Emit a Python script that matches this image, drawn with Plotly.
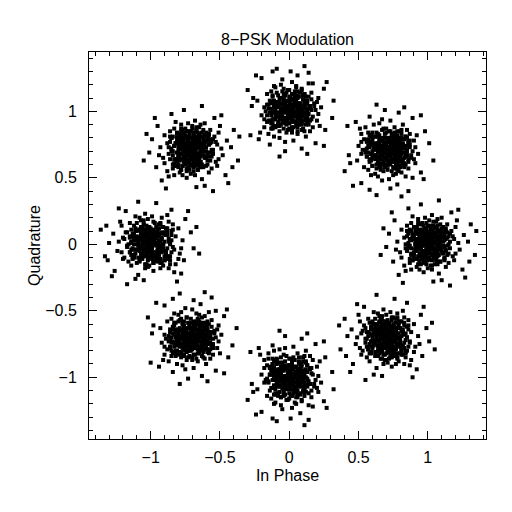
import plotly.graph_objects as go

pts_0 = [
    (1.02, 0.03), (0.97, -0.05), (1.08, 0.01), (0.94, 0.07), (1.01, -0.11), (1.05, 0.09), (0.91, -0.02), (1.11, -0.06),
    (0.99, 0.12), (1.03, -0.01), (0.96, 0.02), (1.07, -0.09), (0.92, 0.10), (1.00, 0.05), (1.13, 0.04), (0.88, -0.07),
    (1.04, 0.14), (0.98, -0.13), (1.09, 0.07), (0.95, -0.09), (1.01, 0.00), (0.93, 0.04), (1.06, -0.03), (0.97, 0.09),
    (1.12, -0.11), (0.90, 0.13), (1.03, 0.06), (0.99, -0.04), (1.15, 0.00), (0.86, 0.01), (1.05, -0.15), (0.94, -0.12),
    (1.10, 0.11), (0.96, 0.16), (1.02, -0.07), (0.89, 0.05), (1.07, 0.03), (0.98, 0.00), (1.14, -0.08), (0.92, -0.05),
    (1.00, -0.18), (1.06, 0.17), (0.84, -0.03), (1.18, 0.06), (0.97, -0.01), (1.03, 0.10), (0.95, 0.03), (1.09, -0.13),
    (0.91, 0.08), (1.04, -0.04), (0.87, -0.11), (1.12, 0.09), (1.01, 0.07), (0.99, -0.08), (1.08, -0.01), (0.93, -0.15),
    (1.16, -0.03), (0.85, 0.10), (1.05, 0.02), (0.97, 0.14), (1.02, -0.16), (0.90, -0.09), (1.11, 0.02), (0.96, -0.06),
    (1.20, 0.13), (0.81, -0.10), (1.07, 0.19), (0.94, -0.19), (1.13, -0.17), (0.88, 0.16), (1.00, 0.09), (1.04, -0.10),
    (0.98, 0.04), (1.10, -0.05), (0.92, 0.01), (1.06, 0.12), (0.95, -0.02), (1.17, 0.10), (0.83, 0.05), (1.01, 0.18),
    (1.23, -0.04), (0.78, 0.02), (1.09, 0.15), (0.97, -0.21), (1.14, 0.05), (0.87, -0.14), (1.03, 0.22), (0.93, 0.19),
    (1.19, -0.12), (0.80, -0.06), (1.26, 0.07), (0.75, -0.13), (1.08, -0.22), (0.89, 0.21), (1.21, 0.18), (0.84, -0.20),
    (1.02, 0.08), (0.99, 0.02), (1.05, -0.06), (0.96, 0.11), (1.07, 0.05), (0.94, -0.03), (1.03, -0.12), (1.00, -0.02),
    (1.11, -0.01), (0.91, -0.11), (1.06, 0.08), (0.88, 0.03), (1.13, 0.12), (0.98, 0.07), (1.15, -0.14), (0.93, 0.16),
    (1.29, 0.02), (0.72, 0.08), (1.17, 0.24), (0.79, -0.23), (1.25, -0.19), (0.86, 0.27), (1.04, -0.28), (1.31, 0.15),
    (0.70, -0.02), (1.22, 0.26), (0.76, 0.18), (1.10, -0.27), (0.95, 0.30), (1.34, -0.08), (0.68, 0.12), (1.19, 0.04),
    (1.01, 0.03), (0.97, -0.10), (1.04, 0.01), (1.08, 0.10), (0.94, 0.00), (1.00, -0.07), (1.12, -0.02), (0.90, 0.06),
    (1.05, 0.13), (0.99, -0.15), (1.07, -0.05), (0.92, 0.12), (1.02, 0.11), (0.96, -0.08), (1.10, 0.06), (0.87, -0.01),
    (1.14, 0.15), (0.83, -0.16), (1.18, -0.09), (0.85, 0.14), (1.03, -0.19), (0.98, 0.20), (1.22, 0.01), (0.77, -0.04),
    (1.06, -0.11), (0.95, 0.05), (1.09, 0.03), (0.91, -0.04), (1.00, 0.14), (1.04, 0.07), (0.97, -0.14), (1.12, 0.07),
    (1.35, 0.10), (0.66, -0.08), (1.27, -0.25), (0.74, 0.24), (1.08, 0.33), (0.82, -0.29), (1.30, -0.13), (1.16, -0.31),
    (0.99, 0.10), (1.02, -0.03), (0.95, 0.09), (1.07, -0.13), (0.90, -0.07), (1.11, 0.13), (1.03, 0.04), (0.93, 0.08),
    (1.01, -0.05), (0.98, 0.06), (1.05, 0.05), (0.96, -0.11), (1.08, 0.00), (0.94, 0.15), (1.13, -0.05), (0.89, -0.12),
    (1.16, 0.08), (0.86, 0.09), (1.04, 0.17), (0.92, -0.17), (1.20, -0.07), (0.81, 0.11), (1.10, 0.20), (0.88, -0.19),
    (1.00, 0.01), (1.06, -0.08), (0.97, 0.04), (1.03, 0.02), (0.95, -0.07), (1.09, 0.09), (0.99, -0.10), (1.02, 0.13),
    (1.00, 0.02), (1.04, -0.03), (0.95, 0.01), (1.02, 0.06), (0.98, -0.06), (1.07, 0.04), (0.93, -0.02), (1.03, -0.08),
    (0.96, 0.07), (1.06, 0.00), (0.99, -0.03), (1.01, 0.09), (0.92, 0.04), (1.05, -0.05), (0.97, 0.03), (1.08, -0.02),
    (1.02, -0.01), (0.94, -0.07), (1.04, 0.08), (0.98, 0.05), (1.09, 0.02), (0.95, -0.04), (1.00, -0.05), (1.03, 0.03),
    (0.91, 0.00), (1.06, 0.06), (0.97, -0.09), (1.01, -0.02), (1.05, 0.02), (0.94, 0.06), (1.07, -0.07), (0.99, 0.04),
    (1.03, 0.00), (0.96, -0.01), (1.00, 0.07), (1.08, 0.05), (0.93, 0.02), (1.02, -0.04), (0.98, 0.01), (1.05, -0.09),
    (0.95, 0.08), (1.01, 0.01), (1.06, -0.03), (0.92, -0.05), (1.04, 0.05), (0.99, -0.07), (1.09, -0.04), (0.97, 0.00),
    (1.12, 0.03), (1.10, 0.09), (1.05, 0.13), (0.98, 0.12), (0.91, 0.10), (0.87, 0.04), (0.88, -0.03), (0.92, -0.11),
    (0.98, -0.13), (1.06, -0.12), (1.11, -0.07), (1.14, -0.01), (1.08, 0.06), (1.03, 0.10), (0.94, 0.08), (0.90, -0.06),
    (1.15, 0.06), (1.07, 0.14), (0.96, 0.15), (0.86, 0.08), (0.85, -0.05), (0.95, -0.15), (1.09, -0.13), (1.15, -0.07),
    (1.09, 0.00), (1.00, 0.09), (0.91, 0.01), (1.01, -0.10), (1.07, 0.11), (0.89, 0.07), (0.94, -0.13), (1.12, -0.10),
    (1.13, 0.10), (0.99, 0.16), (0.87, 0.11), (0.84, 0.00), (0.89, -0.12), (1.03, -0.16), (1.13, -0.04), (1.10, 0.12),
    (1.06, 0.08), (0.92, 0.13), (0.88, -0.08), (1.08, -0.08), (1.16, 0.02), (0.97, 0.07), (0.93, -0.09), (1.04, -0.07),
    (1.11, 0.05), (1.02, 0.14), (0.90, 0.04), (0.96, -0.11), (1.07, -0.15), (1.14, 0.09), (0.86, -0.02), (0.94, 0.11),
    (1.10, -0.02), (1.05, 0.12), (0.88, 0.10), (0.91, -0.04), (1.00, -0.12), (1.12, -0.12), (0.85, 0.06), (1.08, 0.04),
]

pts_45 = [
    (0.74, 0.69), (0.66, 0.74), (0.72, 0.63), (0.78, 0.77), (0.60, 0.70), (0.80, 0.66), (0.69, 0.80), (0.65, 0.60),
    (0.83, 0.72), (0.70, 0.68), (0.73, 0.75), (0.62, 0.64), (0.81, 0.79), (0.76, 0.71), (0.75, 0.58), (0.64, 0.83),
    (0.85, 0.67), (0.58, 0.73), (0.78, 0.62), (0.62, 0.76), (0.71, 0.70), (0.75, 0.78), (0.68, 0.65), (0.80, 0.74),
    (0.60, 0.59), (0.84, 0.81), (0.77, 0.68), (0.67, 0.72), (0.71, 0.56), (0.72, 0.85), (0.56, 0.66), (0.59, 0.77),
    (0.82, 0.61), (0.87, 0.75), (0.64, 0.69), (0.76, 0.82), (0.74, 0.64), (0.71, 0.73), (0.63, 0.57), (0.66, 0.79),
    (0.53, 0.71), (0.88, 0.65), (0.68, 0.87), (0.77, 0.53), (0.70, 0.74), (0.81, 0.68), (0.74, 0.76), (0.58, 0.62),
    (0.79, 0.80), (0.67, 0.67), (0.60, 0.84), (0.80, 0.59), (0.78, 0.70), (0.63, 0.72), (0.70, 0.63), (0.56, 0.78),
    (0.68, 0.55), (0.81, 0.86), (0.73, 0.66), (0.85, 0.74), (0.55, 0.69), (0.62, 0.81), (0.73, 0.60), (0.65, 0.75),
    (0.84, 0.51), (0.61, 0.90), (0.90, 0.64), (0.52, 0.77), (0.54, 0.58), (0.87, 0.83), (0.80, 0.71), (0.61, 0.67),
    (0.75, 0.73), (0.66, 0.61), (0.72, 0.79), (0.83, 0.65), (0.69, 0.76), (0.81, 0.54), (0.76, 0.88), (0.89, 0.70),
    (0.67, 0.48), (0.73, 0.93), (0.86, 0.62), (0.50, 0.74), (0.76, 0.57), (0.57, 0.84), (0.93, 0.68), (0.90, 0.78),
    (0.59, 0.52), (0.65, 0.91), (0.78, 0.45), (0.58, 0.96), (0.49, 0.63), (0.92, 0.82), (0.89, 0.50), (0.51, 0.87),
    (0.79, 0.69), (0.73, 0.72), (0.65, 0.66), (0.82, 0.75), (0.76, 0.64), (0.68, 0.77), (0.59, 0.68), (0.69, 0.71),
    (0.70, 0.60), (0.60, 0.80), (0.79, 0.65), (0.74, 0.83), (0.83, 0.58), (0.78, 0.73), (0.57, 0.56), (0.87, 0.78),
    (0.73, 0.42), (0.79, 0.99), (0.95, 0.54), (0.48, 0.92), (0.52, 0.46), (0.98, 0.85), (0.43, 0.67), (0.86, 0.40),
    (0.69, 1.01), (0.97, 0.49), (0.89, 0.95), (0.44, 0.61), (1.01, 0.76), (0.63, 0.37), (0.83, 1.03), (0.75, 0.52),
    (0.74, 0.70), (0.61, 0.74), (0.72, 0.67), (0.81, 0.63), (0.71, 0.77), (0.64, 0.71), (0.69, 0.59), (0.77, 0.81),
    (0.84, 0.66), (0.56, 0.72), (0.66, 0.64), (0.83, 0.79), (0.82, 0.69), (0.63, 0.75), (0.77, 0.61), (0.70, 0.84),
    (0.86, 0.57), (0.55, 0.88), (0.62, 0.53), (0.85, 0.86), (0.52, 0.68), (0.91, 0.73), (0.72, 0.49), (0.67, 0.94),
    (0.60, 0.65), (0.76, 0.76), (0.74, 0.62), (0.67, 0.80), (0.85, 0.71), (0.78, 0.67), (0.57, 0.74), (0.78, 0.59),
    (0.81, 0.36), (0.63, 1.05), (0.46, 0.44), (0.95, 0.97), (1.04, 0.63), (0.42, 0.89), (0.58, 0.41), (0.40, 0.55),
    (0.81, 0.72), (0.68, 0.69), (0.80, 0.76), (0.58, 0.64), (0.64, 0.81), (0.84, 0.60), (0.75, 0.68), (0.79, 0.78),
    (0.66, 0.70), (0.77, 0.73), (0.76, 0.66), (0.60, 0.75), (0.71, 0.63), (0.86, 0.77), (0.66, 0.58), (0.59, 0.82),
    (0.79, 0.55), (0.80, 0.85), (0.88, 0.67), (0.54, 0.79), (0.64, 0.51), (0.82, 0.90), (0.91, 0.61), (0.52, 0.83),
    (0.72, 0.71), (0.63, 0.65), (0.75, 0.74), (0.73, 0.68), (0.64, 0.76), (0.80, 0.62), (0.61, 0.72), (0.84, 0.69),
    (0.71, 0.73), (0.75, 0.68), (0.66, 0.72), (0.73, 0.77), (0.69, 0.65), (0.78, 0.75), (0.64, 0.69), (0.74, 0.63),
    (0.67, 0.78), (0.77, 0.71), (0.70, 0.68), (0.72, 0.80), (0.63, 0.75), (0.76, 0.66), (0.68, 0.74), (0.79, 0.69),
    (0.73, 0.70), (0.65, 0.64), (0.75, 0.79), (0.69, 0.76), (0.80, 0.73), (0.66, 0.67), (0.71, 0.66), (0.74, 0.74),
    (0.62, 0.71), (0.77, 0.77), (0.68, 0.62), (0.72, 0.69), (0.76, 0.73), (0.65, 0.77), (0.78, 0.64), (0.70, 0.75),
    (0.74, 0.71), (0.67, 0.70), (0.71, 0.78), (0.79, 0.76), (0.64, 0.73), (0.73, 0.67), (0.69, 0.72), (0.76, 0.62),
    (0.66, 0.79), (0.72, 0.72), (0.77, 0.68), (0.63, 0.66), (0.75, 0.76), (0.70, 0.64), (0.80, 0.67), (0.68, 0.71),
    (0.83, 0.74), (0.81, 0.80), (0.76, 0.84), (0.69, 0.83), (0.62, 0.81), (0.58, 0.75), (0.59, 0.68), (0.63, 0.60),
    (0.69, 0.58), (0.77, 0.59), (0.82, 0.64), (0.85, 0.70), (0.79, 0.77), (0.74, 0.81), (0.65, 0.79), (0.61, 0.65),
    (0.86, 0.77), (0.78, 0.85), (0.67, 0.86), (0.57, 0.79), (0.56, 0.66), (0.66, 0.56), (0.80, 0.58), (0.86, 0.64),
    (0.80, 0.71), (0.71, 0.80), (0.62, 0.72), (0.72, 0.61), (0.78, 0.82), (0.60, 0.78), (0.65, 0.58), (0.83, 0.61),
    (0.84, 0.81), (0.70, 0.87), (0.58, 0.82), (0.55, 0.71), (0.60, 0.59), (0.74, 0.55), (0.84, 0.67), (0.81, 0.83),
    (0.77, 0.79), (0.63, 0.84), (0.59, 0.63), (0.79, 0.63), (0.87, 0.73), (0.68, 0.78), (0.64, 0.62), (0.75, 0.64),
    (0.82, 0.76), (0.73, 0.85), (0.61, 0.75), (0.67, 0.60), (0.78, 0.56), (0.85, 0.80), (0.57, 0.69), (0.65, 0.82),
    (0.81, 0.69), (0.76, 0.83), (0.59, 0.81), (0.62, 0.67), (0.71, 0.59), (0.83, 0.59), (0.56, 0.77), (0.79, 0.75),
]

pts_90 = [
    (0.03, 1.02), (-0.06, 0.97), (0.01, 1.09), (0.08, 0.95), (-0.10, 1.01), (0.11, 1.05), (-0.03, 0.92), (-0.07, 1.10),
    (0.12, 0.98), (0.00, 1.04), (0.04, 0.96), (-0.09, 1.07), (0.09, 0.91), (0.05, 1.00), (0.02, 1.13), (-0.08, 0.89),
    (0.15, 1.03), (-0.12, 0.99), (0.06, 1.10), (-0.10, 0.94), (0.01, 1.01), (0.03, 0.93), (-0.04, 1.06), (0.10, 0.97),
    (-0.12, 1.12), (0.14, 0.90), (0.07, 1.03), (-0.05, 0.99), (-0.01, 1.16), (0.02, 0.86), (-0.16, 1.05), (-0.11, 0.94),
    (0.12, 1.11), (0.17, 0.96), (-0.06, 1.02), (0.06, 0.88), (0.04, 1.07), (-0.01, 0.98), (-0.09, 1.14), (-0.04, 0.92),
    (-0.17, 1.00), (0.18, 1.06), (-0.02, 0.84), (0.05, 1.18), (0.00, 0.97), (0.11, 1.04), (0.02, 0.95), (-0.14, 1.08),
    (0.07, 0.91), (-0.05, 1.05), (-0.12, 0.87), (0.10, 1.12), (0.08, 1.01), (-0.07, 0.99), (0.00, 1.08), (-0.14, 0.93),
    (-0.04, 1.17), (0.11, 0.85), (0.03, 1.05), (0.13, 0.97), (-0.15, 1.02), (-0.08, 0.90), (0.01, 1.11), (-0.05, 0.96),
    (0.14, 1.21), (-0.11, 0.81), (0.20, 1.07), (-0.18, 0.94), (-0.16, 1.13), (0.17, 0.88), (0.08, 1.00), (-0.09, 1.04),
    (0.05, 0.98), (-0.06, 1.10), (0.02, 0.92), (0.13, 1.06), (-0.03, 0.95), (0.09, 1.17), (0.06, 0.83), (0.19, 1.01),
    (-0.05, 1.24), (0.03, 0.78), (0.16, 1.09), (-0.20, 0.97), (0.04, 1.15), (-0.13, 0.87), (0.23, 1.03), (0.20, 0.93),
    (-0.11, 1.19), (-0.07, 0.80), (0.06, 1.27), (-0.14, 0.75), (-0.23, 1.08), (0.22, 0.89), (0.17, 1.21), (-0.21, 0.84),
    (0.09, 1.02), (0.01, 0.99), (-0.07, 1.05), (0.10, 0.96), (0.04, 1.07), (-0.02, 0.94), (-0.11, 1.03), (-0.01, 1.00),
    (0.00, 1.11), (-0.12, 0.91), (0.07, 1.06), (0.02, 0.88), (0.11, 1.13), (0.08, 0.98), (-0.13, 1.15), (0.15, 0.93),
    (0.01, 1.30), (0.09, 0.72), (0.25, 1.17), (-0.22, 0.79), (-0.20, 1.25), (0.26, 0.86), (-0.27, 1.04), (0.14, 1.29),
    (-0.03, 0.70), (0.27, 1.22), (0.19, 0.76), (-0.26, 1.10), (0.31, 0.95), (-0.09, 1.32), (0.13, 0.68), (0.05, 1.19),
    (0.02, 1.01), (-0.09, 0.97), (0.00, 1.04), (0.11, 1.08), (-0.01, 0.94), (-0.06, 1.00), (-0.03, 1.12), (0.07, 0.90),
    (0.12, 1.05), (-0.14, 0.99), (-0.04, 1.07), (0.13, 0.92), (0.10, 1.02), (-0.09, 0.96), (0.05, 1.10), (0.00, 0.87),
    (0.16, 1.14), (-0.15, 0.83), (-0.10, 1.18), (0.15, 0.85), (-0.18, 1.03), (0.21, 0.98), (0.02, 1.22), (-0.03, 0.77),
    (-0.10, 1.06), (0.06, 0.95), (0.04, 1.09), (-0.03, 0.91), (0.13, 1.00), (0.08, 1.04), (-0.13, 0.97), (0.06, 1.12),
    (0.11, 1.34), (-0.07, 0.66), (-0.24, 1.27), (0.25, 0.74), (0.32, 1.08), (-0.28, 0.82), (-0.12, 1.30), (-0.30, 1.16),
    (0.11, 0.99), (-0.02, 1.02), (0.08, 0.95), (-0.12, 1.07), (-0.06, 0.90), (0.14, 1.11), (0.03, 1.03), (0.09, 0.93),
    (-0.04, 1.01), (0.07, 0.98), (0.06, 1.05), (-0.10, 0.96), (0.01, 1.08), (0.16, 0.94), (-0.04, 1.13), (-0.11, 0.89),
    (0.09, 1.16), (0.10, 0.86), (0.18, 1.04), (-0.16, 0.92), (-0.06, 1.20), (0.12, 0.81), (0.21, 1.10), (-0.18, 0.88),
    (0.02, 1.00), (-0.07, 1.06), (0.05, 0.97), (0.03, 1.03), (-0.06, 0.95), (0.10, 1.09), (-0.09, 0.99), (0.14, 1.02),
    (0.02, 1.00), (-0.03, 1.04), (0.01, 0.95), (0.06, 1.02), (-0.06, 0.98), (0.04, 1.07), (-0.02, 0.93), (-0.08, 1.03),
    (0.07, 0.96), (0.00, 1.06), (-0.03, 0.99), (0.09, 1.01), (0.04, 0.92), (-0.05, 1.05), (0.03, 0.97), (-0.02, 1.08),
    (-0.01, 1.02), (-0.07, 0.94), (0.08, 1.04), (0.05, 0.98), (0.02, 1.09), (-0.04, 0.95), (-0.05, 1.00), (0.03, 1.03),
    (0.00, 0.91), (0.06, 1.06), (-0.09, 0.97), (-0.02, 1.01), (0.02, 1.05), (0.06, 0.94), (-0.07, 1.07), (0.04, 0.99),
    (0.00, 1.03), (-0.01, 0.96), (0.07, 1.00), (0.05, 1.08), (0.02, 0.93), (-0.04, 1.02), (0.01, 0.98), (-0.09, 1.05),
    (0.08, 0.95), (0.01, 1.01), (-0.03, 1.06), (-0.05, 0.92), (0.05, 1.04), (-0.07, 0.99), (-0.04, 1.09), (0.00, 0.97),
    (0.03, 0.88), (0.09, 0.90), (0.13, 0.95), (0.12, 1.02), (0.10, 1.09), (0.04, 1.13), (-0.03, 1.12), (-0.11, 1.08),
    (-0.13, 1.02), (-0.12, 0.94), (-0.07, 0.89), (-0.01, 0.86), (0.06, 0.92), (0.10, 0.97), (0.08, 1.06), (-0.06, 1.10),
    (0.06, 0.85), (0.14, 0.93), (0.15, 1.04), (0.08, 1.14), (-0.05, 1.15), (-0.15, 1.05), (-0.13, 0.91), (-0.07, 0.85),
    (0.00, 0.91), (0.09, 1.00), (0.01, 1.09), (-0.10, 0.99), (0.11, 0.93), (0.07, 1.11), (-0.13, 1.06), (-0.10, 0.88),
    (0.10, 0.87), (0.16, 1.01), (0.11, 1.13), (0.00, 1.16), (-0.12, 1.11), (-0.16, 0.97), (-0.04, 0.87), (0.12, 0.90),
    (0.08, 0.94), (0.13, 1.08), (-0.08, 1.12), (-0.08, 0.92), (0.02, 0.84), (0.07, 1.03), (-0.09, 1.07), (-0.07, 0.96),
    (0.05, 0.89), (0.14, 0.98), (0.04, 1.10), (-0.11, 1.04), (-0.15, 0.93), (0.09, 0.86), (-0.02, 1.14), (0.11, 1.06),
    (-0.02, 0.90), (0.12, 0.95), (0.10, 1.12), (-0.04, 1.09), (-0.12, 1.00), (-0.12, 0.88), (0.06, 1.15), (0.04, 0.92),
]

pts_135 = [
    (-0.69, 0.74), (-0.74, 0.66), (-0.63, 0.72), (-0.77, 0.78), (-0.70, 0.60), (-0.66, 0.80), (-0.80, 0.69), (-0.60, 0.65),
    (-0.72, 0.83), (-0.68, 0.70), (-0.75, 0.73), (-0.64, 0.62), (-0.79, 0.81), (-0.71, 0.76), (-0.58, 0.75), (-0.83, 0.64),
    (-0.67, 0.85), (-0.73, 0.58), (-0.62, 0.78), (-0.76, 0.62), (-0.70, 0.71), (-0.78, 0.75), (-0.65, 0.68), (-0.74, 0.80),
    (-0.59, 0.60), (-0.81, 0.84), (-0.68, 0.77), (-0.72, 0.67), (-0.56, 0.71), (-0.85, 0.72), (-0.66, 0.56), (-0.77, 0.59),
    (-0.61, 0.82), (-0.75, 0.87), (-0.69, 0.64), (-0.82, 0.76), (-0.64, 0.74), (-0.73, 0.71), (-0.57, 0.63), (-0.79, 0.66),
    (-0.71, 0.53), (-0.65, 0.88), (-0.87, 0.68), (-0.53, 0.77), (-0.74, 0.70), (-0.68, 0.81), (-0.76, 0.74), (-0.62, 0.58),
    (-0.80, 0.79), (-0.67, 0.67), (-0.84, 0.60), (-0.59, 0.80), (-0.70, 0.78), (-0.72, 0.63), (-0.63, 0.70), (-0.78, 0.56),
    (-0.55, 0.68), (-0.86, 0.81), (-0.66, 0.73), (-0.74, 0.85), (-0.69, 0.55), (-0.81, 0.62), (-0.60, 0.73), (-0.75, 0.65),
    (-0.51, 0.84), (-0.90, 0.61), (-0.64, 0.90), (-0.77, 0.52), (-0.58, 0.54), (-0.83, 0.87), (-0.71, 0.80), (-0.67, 0.61),
    (-0.73, 0.75), (-0.61, 0.66), (-0.79, 0.72), (-0.65, 0.83), (-0.76, 0.69), (-0.54, 0.81), (-0.88, 0.76), (-0.70, 0.89),
    (-0.48, 0.67), (-0.93, 0.73), (-0.62, 0.86), (-0.74, 0.50), (-0.57, 0.76), (-0.84, 0.57), (-0.68, 0.93), (-0.78, 0.90),
    (-0.52, 0.59), (-0.91, 0.65), (-0.45, 0.78), (-0.96, 0.58), (-0.63, 0.49), (-0.82, 0.92), (-0.50, 0.89), (-0.87, 0.51),
    (-0.69, 0.79), (-0.72, 0.73), (-0.66, 0.65), (-0.75, 0.82), (-0.64, 0.76), (-0.77, 0.68), (-0.68, 0.59), (-0.71, 0.69),
    (-0.60, 0.70), (-0.80, 0.60), (-0.65, 0.79), (-0.83, 0.74), (-0.58, 0.83), (-0.73, 0.78), (-0.56, 0.57), (-0.78, 0.87),
    (-0.42, 0.73), (-0.99, 0.79), (-0.54, 0.95), (-0.92, 0.48), (-0.46, 0.52), (-0.85, 0.98), (-0.67, 0.43), (-0.40, 0.86),
    (-1.01, 0.69), (-0.49, 0.97), (-0.95, 0.89), (-0.61, 0.44), (-0.76, 1.01), (-0.37, 0.63), (-1.03, 0.83), (-0.52, 0.75),
    (-0.70, 0.74), (-0.74, 0.61), (-0.67, 0.72), (-0.63, 0.81), (-0.77, 0.71), (-0.71, 0.64), (-0.59, 0.69), (-0.81, 0.77),
    (-0.66, 0.84), (-0.72, 0.56), (-0.64, 0.66), (-0.79, 0.83), (-0.69, 0.82), (-0.75, 0.63), (-0.61, 0.77), (-0.84, 0.70),
    (-0.57, 0.86), (-0.88, 0.55), (-0.53, 0.62), (-0.86, 0.85), (-0.68, 0.52), (-0.73, 0.91), (-0.49, 0.72), (-0.94, 0.67),
    (-0.65, 0.60), (-0.76, 0.76), (-0.62, 0.74), (-0.80, 0.67), (-0.71, 0.85), (-0.67, 0.78), (-0.74, 0.57), (-0.59, 0.78),
    (-0.36, 0.81), (-1.05, 0.63), (-0.44, 0.46), (-0.97, 0.95), (-0.63, 1.04), (-0.89, 0.42), (-0.41, 0.58), (-0.55, 0.40),
    (-0.72, 0.81), (-0.69, 0.68), (-0.76, 0.80), (-0.64, 0.58), (-0.81, 0.64), (-0.60, 0.84), (-0.68, 0.75), (-0.78, 0.79),
    (-0.70, 0.66), (-0.73, 0.77), (-0.66, 0.76), (-0.75, 0.60), (-0.63, 0.71), (-0.77, 0.86), (-0.58, 0.66), (-0.82, 0.59),
    (-0.55, 0.79), (-0.85, 0.80), (-0.67, 0.88), (-0.79, 0.54), (-0.51, 0.64), (-0.90, 0.82), (-0.61, 0.91), (-0.83, 0.52),
    (-0.71, 0.72), (-0.65, 0.63), (-0.74, 0.75), (-0.68, 0.73), (-0.76, 0.64), (-0.62, 0.80), (-0.72, 0.61), (-0.69, 0.84),
    (-0.69, 0.71), (-0.74, 0.67), (-0.70, 0.76), (-0.65, 0.69), (-0.77, 0.73), (-0.67, 0.64), (-0.73, 0.78), (-0.79, 0.68),
    (-0.64, 0.75), (-0.71, 0.65), (-0.74, 0.72), (-0.62, 0.70), (-0.67, 0.79), (-0.76, 0.66), (-0.68, 0.74), (-0.73, 0.63),
    (-0.72, 0.69), (-0.78, 0.77), (-0.63, 0.67), (-0.66, 0.73), (-0.69, 0.62), (-0.75, 0.76), (-0.76, 0.71), (-0.68, 0.68),
    (-0.71, 0.80), (-0.65, 0.65), (-0.80, 0.74), (-0.73, 0.70), (-0.69, 0.66), (-0.65, 0.77), (-0.78, 0.64), (-0.67, 0.72),
    (-0.71, 0.68), (-0.72, 0.75), (-0.64, 0.71), (-0.66, 0.63), (-0.69, 0.78), (-0.75, 0.69), (-0.70, 0.73), (-0.80, 0.66),
    (-0.63, 0.76), (-0.70, 0.70), (-0.74, 0.65), (-0.76, 0.79), (-0.66, 0.67), (-0.78, 0.72), (-0.75, 0.62), (-0.71, 0.74),
    (-0.83, 0.74), (-0.81, 0.80), (-0.76, 0.84), (-0.69, 0.83), (-0.62, 0.81), (-0.58, 0.75), (-0.59, 0.68), (-0.63, 0.60),
    (-0.69, 0.58), (-0.77, 0.59), (-0.82, 0.64), (-0.85, 0.70), (-0.79, 0.77), (-0.74, 0.81), (-0.65, 0.79), (-0.61, 0.65),
    (-0.86, 0.77), (-0.78, 0.85), (-0.67, 0.86), (-0.57, 0.79), (-0.56, 0.66), (-0.66, 0.56), (-0.80, 0.58), (-0.86, 0.64),
    (-0.80, 0.71), (-0.71, 0.80), (-0.62, 0.72), (-0.72, 0.61), (-0.78, 0.82), (-0.60, 0.78), (-0.65, 0.58), (-0.83, 0.61),
    (-0.84, 0.81), (-0.70, 0.87), (-0.58, 0.82), (-0.55, 0.71), (-0.60, 0.59), (-0.74, 0.55), (-0.84, 0.67), (-0.81, 0.83),
    (-0.77, 0.79), (-0.63, 0.84), (-0.59, 0.63), (-0.79, 0.63), (-0.87, 0.73), (-0.68, 0.78), (-0.64, 0.62), (-0.75, 0.64),
    (-0.82, 0.76), (-0.73, 0.85), (-0.61, 0.75), (-0.67, 0.60), (-0.78, 0.56), (-0.85, 0.80), (-0.57, 0.69), (-0.65, 0.82),
    (-0.81, 0.69), (-0.76, 0.83), (-0.59, 0.81), (-0.62, 0.67), (-0.71, 0.59), (-0.83, 0.59), (-0.56, 0.77), (-0.79, 0.75),
]

pts_180 = [
    (-1.04, 0.02), (-0.95, -0.07), (-1.10, 0.04), (-0.97, 0.09), (-1.02, -0.09), (-1.06, 0.12), (-0.93, -0.01), (-1.08, -0.05),
    (-0.98, 0.10), (-1.01, -0.03), (-0.94, 0.03), (-1.12, -0.08), (-0.90, 0.08), (-1.03, 0.06), (-1.14, 0.01), (-0.87, -0.09),
    (-1.05, 0.15), (-0.99, -0.11), (-1.09, 0.05), (-0.96, -0.12), (-1.00, 0.02), (-0.92, 0.05), (-1.07, -0.02), (-0.95, 0.11),
    (-1.13, -0.10), (-0.89, 0.12), (-1.04, 0.08), (-0.97, -0.06), (-1.17, -0.01), (-0.85, 0.03), (-1.03, -0.16), (-0.93, -0.13),
    (-1.11, 0.10), (-0.98, 0.17), (-1.01, -0.05), (-0.88, 0.07), (-1.06, 0.01), (-0.99, -0.01), (-1.15, -0.06), (-0.91, -0.03),
    (-1.02, -0.17), (-1.07, 0.18), (-0.83, -0.04), (-1.19, 0.04), (-0.96, 0.00), (-1.05, 0.11), (-0.94, 0.02), (-1.10, -0.14),
    (-0.90, 0.09), (-1.03, -0.06), (-0.86, -0.12), (-1.13, 0.08), (-1.00, 0.08), (-0.97, -0.09), (-1.09, 0.00), (-0.92, -0.14),
    (-1.17, -0.02), (-0.84, 0.11), (-1.06, 0.03), (-0.96, 0.13), (-1.03, -0.15), (-0.89, -0.08), (-1.12, 0.03), (-0.95, -0.05),
    (-1.21, 0.14), (-0.80, -0.11), (-1.08, 0.20), (-0.93, -0.18), (-1.14, -0.16), (-0.87, 0.17), (-1.01, 0.10), (-1.05, -0.09),
    (-0.97, 0.05), (-1.11, -0.04), (-0.91, 0.00), (-1.07, 0.13), (-0.94, -0.03), (-1.18, 0.09), (-0.82, 0.06), (-1.02, 0.19),
    (-1.24, -0.05), (-0.77, 0.03), (-1.10, 0.16), (-0.98, -0.20), (-1.15, 0.06), (-0.86, -0.15), (-1.04, 0.23), (-0.92, 0.20),
    (-1.20, -0.11), (-0.79, -0.07), (-1.27, 0.08), (-0.76, -0.12), (-1.09, -0.23), (-0.88, 0.22), (-1.22, 0.17), (-0.83, -0.21),
    (-1.03, 0.07), (-0.98, 0.01), (-1.06, -0.07), (-0.95, 0.10), (-1.08, 0.04), (-0.93, -0.04), (-1.02, -0.11), (-1.01, -0.01),
    (-1.12, 0.00), (-0.90, -0.12), (-1.07, 0.07), (-0.87, 0.02), (-1.14, 0.11), (-0.99, 0.08), (-1.16, -0.13), (-0.94, 0.15),
    (-1.30, 0.01), (-0.71, 0.09), (-1.18, 0.25), (-0.78, -0.22), (-1.26, -0.20), (-0.85, 0.26), (-1.05, -0.27), (-1.32, 0.14),
    (-0.69, -0.03), (-1.23, 0.27), (-0.75, 0.19), (-1.11, -0.26), (-0.96, 0.31), (-1.33, -0.09), (-0.67, 0.13), (-1.20, 0.05),
    (-1.00, 0.04), (-0.96, -0.09), (-1.05, 0.00), (-1.09, 0.11), (-0.95, -0.01), (-1.01, -0.06), (-1.13, -0.03), (-0.89, 0.07),
    (-1.06, 0.12), (-0.98, -0.14), (-1.08, -0.04), (-0.91, 0.13), (-1.03, 0.10), (-0.97, -0.09), (-1.11, 0.05), (-0.86, 0.00),
    (-1.15, 0.16), (-0.82, -0.15), (-1.19, -0.10), (-0.84, 0.15), (-1.04, -0.18), (-0.99, 0.21), (-1.23, 0.02), (-0.78, -0.03),
    (-1.07, -0.10), (-0.94, 0.06), (-1.10, 0.04), (-0.92, -0.03), (-1.01, 0.13), (-1.05, 0.08), (-0.98, -0.13), (-1.13, 0.06),
    (-1.36, 0.11), (-0.65, -0.07), (-1.28, -0.24), (-0.73, 0.25), (-1.09, 0.32), (-0.81, -0.28), (-1.31, -0.12), (-1.17, -0.30),
    (-0.98, 0.11), (-1.03, -0.02), (-0.94, 0.08), (-1.08, -0.12), (-0.89, -0.06), (-1.12, 0.14), (-1.02, 0.03), (-0.92, 0.09),
    (-1.00, -0.04), (-0.99, 0.07), (-1.04, 0.06), (-0.95, -0.10), (-1.09, 0.01), (-0.93, 0.16), (-1.14, -0.04), (-0.88, -0.11),
    (-1.17, 0.09), (-0.85, 0.10), (-1.05, 0.18), (-0.91, -0.16), (-1.21, -0.06), (-0.80, 0.12), (-1.11, 0.21), (-0.87, -0.18),
    (-1.01, 0.02), (-1.07, -0.07), (-0.96, 0.05), (-1.02, 0.03), (-0.94, -0.06), (-1.10, 0.10), (-0.98, -0.09), (-1.03, 0.14),
    (-1.00, 0.02), (-1.04, -0.03), (-0.95, 0.01), (-1.02, 0.06), (-0.98, -0.06), (-1.07, 0.04), (-0.93, -0.02), (-1.03, -0.08),
    (-0.96, 0.07), (-1.06, 0.00), (-0.99, -0.03), (-1.01, 0.09), (-0.92, 0.04), (-1.05, -0.05), (-0.97, 0.03), (-1.08, -0.02),
    (-1.02, -0.01), (-0.94, -0.07), (-1.04, 0.08), (-0.98, 0.05), (-1.09, 0.02), (-0.95, -0.04), (-1.00, -0.05), (-1.03, 0.03),
    (-0.91, 0.00), (-1.06, 0.06), (-0.97, -0.09), (-1.01, -0.02), (-1.05, 0.02), (-0.94, 0.06), (-1.07, -0.07), (-0.99, 0.04),
    (-1.03, 0.00), (-0.96, -0.01), (-1.00, 0.07), (-1.08, 0.05), (-0.93, 0.02), (-1.02, -0.04), (-0.98, 0.01), (-1.05, -0.09),
    (-0.95, 0.08), (-1.01, 0.01), (-1.06, -0.03), (-0.92, -0.05), (-1.04, 0.05), (-0.99, -0.07), (-1.09, -0.04), (-0.97, 0.00),
    (-0.88, -0.03), (-0.90, -0.09), (-0.95, -0.13), (-1.02, -0.12), (-1.09, -0.10), (-1.13, -0.04), (-1.12, 0.03), (-1.08, 0.11),
    (-1.02, 0.13), (-0.94, 0.12), (-0.89, 0.07), (-0.86, 0.01), (-0.92, -0.06), (-0.97, -0.10), (-1.06, -0.08), (-1.10, 0.06),
    (-0.85, -0.06), (-0.93, -0.14), (-1.04, -0.15), (-1.14, -0.08), (-1.15, 0.05), (-1.05, 0.15), (-0.91, 0.13), (-0.85, 0.07),
    (-0.91, 0.00), (-1.00, -0.09), (-1.09, -0.01), (-0.99, 0.10), (-0.93, -0.11), (-1.11, -0.07), (-1.06, 0.13), (-0.88, 0.10),
    (-0.87, -0.10), (-1.01, -0.16), (-1.13, -0.11), (-1.16, 0.00), (-1.11, 0.12), (-0.97, 0.16), (-0.87, 0.04), (-0.90, -0.12),
    (-0.94, -0.08), (-1.08, -0.13), (-1.12, 0.08), (-0.92, 0.08), (-0.84, -0.02), (-1.03, -0.07), (-1.07, 0.09), (-0.96, 0.07),
    (-0.89, -0.05), (-0.98, -0.14), (-1.10, -0.04), (-1.04, 0.11), (-0.93, 0.15), (-0.86, -0.09), (-1.14, 0.02), (-1.06, -0.11),
    (-0.90, 0.02), (-0.95, -0.12), (-1.12, -0.10), (-1.09, 0.04), (-1.00, 0.12), (-0.88, 0.12), (-1.15, -0.06), (-0.92, -0.04),
]

pts_225 = [
    (-0.68, -0.69), (-0.76, -0.74), (-0.70, -0.63), (-0.64, -0.77), (-0.82, -0.70), (-0.62, -0.66), (-0.73, -0.80), (-0.77, -0.60),
    (-0.59, -0.72), (-0.72, -0.68), (-0.69, -0.75), (-0.80, -0.64), (-0.61, -0.79), (-0.66, -0.71), (-0.67, -0.58), (-0.78, -0.83),
    (-0.57, -0.67), (-0.84, -0.73), (-0.64, -0.62), (-0.80, -0.76), (-0.71, -0.70), (-0.67, -0.78), (-0.74, -0.65), (-0.62, -0.74),
    (-0.82, -0.59), (-0.58, -0.81), (-0.65, -0.68), (-0.75, -0.72), (-0.71, -0.56), (-0.70, -0.85), (-0.86, -0.66), (-0.83, -0.77),
    (-0.60, -0.61), (-0.55, -0.75), (-0.78, -0.69), (-0.66, -0.82), (-0.68, -0.64), (-0.71, -0.73), (-0.79, -0.57), (-0.76, -0.79),
    (-0.89, -0.71), (-0.54, -0.65), (-0.74, -0.87), (-0.65, -0.53), (-0.72, -0.74), (-0.61, -0.68), (-0.68, -0.76), (-0.84, -0.62),
    (-0.63, -0.80), (-0.75, -0.67), (-0.82, -0.84), (-0.62, -0.59), (-0.64, -0.70), (-0.79, -0.72), (-0.72, -0.63), (-0.86, -0.78),
    (-0.74, -0.55), (-0.61, -0.86), (-0.69, -0.66), (-0.57, -0.74), (-0.87, -0.69), (-0.80, -0.81), (-0.69, -0.60), (-0.77, -0.75),
    (-0.58, -0.51), (-0.81, -0.90), (-0.52, -0.64), (-0.90, -0.77), (-0.88, -0.58), (-0.55, -0.83), (-0.62, -0.71), (-0.81, -0.67),
    (-0.67, -0.73), (-0.76, -0.61), (-0.70, -0.79), (-0.59, -0.65), (-0.73, -0.76), (-0.61, -0.54), (-0.66, -0.88), (-0.53, -0.70),
    (-0.75, -0.48), (-0.69, -0.93), (-0.56, -0.62), (-0.92, -0.74), (-0.66, -0.57), (-0.85, -0.84), (-0.49, -0.68), (-0.52, -0.78),
    (-0.83, -0.52), (-0.77, -0.91), (-0.64, -0.45), (-0.84, -0.96), (-0.93, -0.63), (-0.50, -0.82), (-0.53, -0.50), (-0.91, -0.87),
    (-0.63, -0.69), (-0.69, -0.72), (-0.77, -0.66), (-0.60, -0.75), (-0.66, -0.64), (-0.74, -0.77), (-0.83, -0.68), (-0.73, -0.71),
    (-0.72, -0.60), (-0.82, -0.80), (-0.63, -0.65), (-0.68, -0.83), (-0.59, -0.58), (-0.64, -0.73), (-0.85, -0.56), (-0.55, -0.78),
    (-0.69, -0.42), (-0.63, -0.99), (-0.47, -0.54), (-0.94, -0.92), (-0.90, -0.46), (-0.44, -0.85), (-0.99, -0.67), (-0.56, -0.40),
    (-0.73, -1.01), (-0.45, -0.49), (-0.53, -0.95), (-0.98, -0.61), (-0.41, -0.76), (-0.79, -0.37), (-0.59, -1.03), (-0.67, -0.52),
    (-0.68, -0.70), (-0.81, -0.74), (-0.70, -0.67), (-0.61, -0.63), (-0.71, -0.77), (-0.78, -0.71), (-0.73, -0.59), (-0.65, -0.81),
    (-0.58, -0.66), (-0.86, -0.72), (-0.76, -0.64), (-0.59, -0.79), (-0.60, -0.69), (-0.79, -0.75), (-0.65, -0.61), (-0.72, -0.84),
    (-0.56, -0.57), (-0.87, -0.88), (-0.80, -0.53), (-0.57, -0.86), (-0.90, -0.68), (-0.51, -0.73), (-0.70, -0.49), (-0.75, -0.94),
    (-0.82, -0.65), (-0.66, -0.76), (-0.68, -0.62), (-0.75, -0.80), (-0.57, -0.71), (-0.64, -0.67), (-0.85, -0.74), (-0.64, -0.59),
    (-0.61, -0.36), (-0.79, -1.05), (-0.96, -0.44), (-0.47, -0.97), (-0.38, -0.63), (-1.00, -0.89), (-0.84, -0.41), (-1.02, -0.55),
    (-0.61, -0.72), (-0.74, -0.69), (-0.62, -0.76), (-0.84, -0.64), (-0.78, -0.81), (-0.58, -0.60), (-0.67, -0.68), (-0.63, -0.78),
    (-0.76, -0.70), (-0.65, -0.73), (-0.66, -0.66), (-0.82, -0.75), (-0.71, -0.63), (-0.56, -0.77), (-0.76, -0.58), (-0.83, -0.82),
    (-0.63, -0.55), (-0.62, -0.85), (-0.54, -0.67), (-0.88, -0.79), (-0.78, -0.51), (-0.60, -0.90), (-0.51, -0.61), (-0.90, -0.83),
    (-0.70, -0.71), (-0.79, -0.65), (-0.67, -0.74), (-0.69, -0.68), (-0.78, -0.76), (-0.62, -0.62), (-0.81, -0.72), (-0.58, -0.69),
    (-0.71, -0.73), (-0.75, -0.68), (-0.66, -0.72), (-0.73, -0.77), (-0.69, -0.65), (-0.78, -0.75), (-0.64, -0.69), (-0.74, -0.63),
    (-0.67, -0.78), (-0.77, -0.71), (-0.70, -0.68), (-0.72, -0.80), (-0.63, -0.75), (-0.76, -0.66), (-0.68, -0.74), (-0.79, -0.69),
    (-0.73, -0.70), (-0.65, -0.64), (-0.75, -0.79), (-0.69, -0.76), (-0.80, -0.73), (-0.66, -0.67), (-0.71, -0.66), (-0.74, -0.74),
    (-0.62, -0.71), (-0.77, -0.77), (-0.68, -0.62), (-0.72, -0.69), (-0.76, -0.73), (-0.65, -0.77), (-0.78, -0.64), (-0.70, -0.75),
    (-0.74, -0.71), (-0.67, -0.70), (-0.71, -0.78), (-0.79, -0.76), (-0.64, -0.73), (-0.73, -0.67), (-0.69, -0.72), (-0.76, -0.62),
    (-0.66, -0.79), (-0.72, -0.72), (-0.77, -0.68), (-0.63, -0.66), (-0.75, -0.76), (-0.70, -0.64), (-0.80, -0.67), (-0.68, -0.71),
    (-0.83, -0.74), (-0.81, -0.80), (-0.76, -0.84), (-0.69, -0.83), (-0.62, -0.81), (-0.58, -0.75), (-0.59, -0.68), (-0.63, -0.60),
    (-0.69, -0.58), (-0.77, -0.59), (-0.82, -0.64), (-0.85, -0.70), (-0.79, -0.77), (-0.74, -0.81), (-0.65, -0.79), (-0.61, -0.65),
    (-0.86, -0.77), (-0.78, -0.85), (-0.67, -0.86), (-0.57, -0.79), (-0.56, -0.66), (-0.66, -0.56), (-0.80, -0.58), (-0.86, -0.64),
    (-0.80, -0.71), (-0.71, -0.80), (-0.62, -0.72), (-0.72, -0.61), (-0.78, -0.82), (-0.60, -0.78), (-0.65, -0.58), (-0.83, -0.61),
    (-0.84, -0.81), (-0.70, -0.87), (-0.58, -0.82), (-0.55, -0.71), (-0.60, -0.59), (-0.74, -0.55), (-0.84, -0.67), (-0.81, -0.83),
    (-0.77, -0.79), (-0.63, -0.84), (-0.59, -0.63), (-0.79, -0.63), (-0.87, -0.73), (-0.68, -0.78), (-0.64, -0.62), (-0.75, -0.64),
    (-0.82, -0.76), (-0.73, -0.85), (-0.61, -0.75), (-0.67, -0.60), (-0.78, -0.56), (-0.85, -0.80), (-0.57, -0.69), (-0.65, -0.82),
    (-0.81, -0.69), (-0.76, -0.83), (-0.59, -0.81), (-0.62, -0.67), (-0.71, -0.59), (-0.83, -0.59), (-0.56, -0.77), (-0.79, -0.75),
]

pts_270 = [
    (0.02, -1.04), (-0.07, -0.95), (0.04, -1.10), (0.09, -0.97), (-0.09, -1.02), (0.12, -1.06), (-0.01, -0.93), (-0.05, -1.08),
    (0.10, -0.98), (-0.03, -1.01), (0.03, -0.94), (-0.08, -1.12), (0.08, -0.90), (0.06, -1.03), (0.01, -1.14), (-0.09, -0.87),
    (0.15, -1.05), (-0.11, -0.99), (0.05, -1.09), (-0.12, -0.96), (0.02, -1.00), (0.05, -0.92), (-0.02, -1.07), (0.11, -0.95),
    (-0.10, -1.13), (0.12, -0.89), (0.08, -1.04), (-0.06, -0.97), (-0.01, -1.17), (0.03, -0.85), (-0.16, -1.03), (-0.13, -0.93),
    (0.10, -1.11), (0.17, -0.98), (-0.05, -1.01), (0.07, -0.88), (0.01, -1.06), (-0.01, -0.99), (-0.06, -1.15), (-0.03, -0.91),
    (-0.17, -1.02), (0.18, -1.07), (-0.04, -0.83), (0.04, -1.19), (0.00, -0.96), (0.11, -1.05), (0.02, -0.94), (-0.14, -1.10),
    (0.09, -0.90), (-0.06, -1.03), (-0.12, -0.86), (0.08, -1.13), (0.08, -1.00), (-0.09, -0.97), (0.00, -1.09), (-0.14, -0.92),
    (-0.02, -1.17), (0.11, -0.84), (0.03, -1.06), (0.13, -0.96), (-0.15, -1.03), (-0.08, -0.89), (0.03, -1.12), (-0.05, -0.95),
    (0.14, -1.21), (-0.11, -0.80), (0.20, -1.08), (-0.18, -0.93), (-0.16, -1.14), (0.17, -0.87), (0.10, -1.01), (-0.09, -1.05),
    (0.05, -0.97), (-0.04, -1.11), (0.00, -0.91), (0.13, -1.07), (-0.03, -0.94), (0.09, -1.18), (0.06, -0.82), (0.19, -1.02),
    (-0.05, -1.24), (0.03, -0.77), (0.16, -1.10), (-0.20, -0.98), (0.06, -1.15), (-0.15, -0.86), (0.23, -1.04), (0.20, -0.92),
    (-0.11, -1.20), (-0.07, -0.79), (0.08, -1.27), (-0.12, -0.76), (-0.23, -1.09), (0.22, -0.88), (0.17, -1.22), (-0.21, -0.83),
    (0.07, -1.03), (0.01, -0.98), (-0.07, -1.06), (0.10, -0.95), (0.04, -1.08), (-0.04, -0.93), (-0.11, -1.02), (-0.01, -1.01),
    (0.00, -1.12), (-0.12, -0.90), (0.07, -1.07), (0.02, -0.87), (0.11, -1.14), (0.08, -0.99), (-0.13, -1.16), (0.15, -0.94),
    (0.01, -1.31), (0.09, -0.71), (0.25, -1.18), (-0.22, -0.78), (-0.20, -1.26), (0.26, -0.85), (-0.27, -1.05), (0.14, -1.32),
    (-0.03, -0.69), (0.27, -1.23), (0.19, -0.75), (-0.26, -1.11), (0.31, -0.96), (-0.09, -1.33), (0.13, -0.67), (0.05, -1.20),
    (0.04, -1.00), (-0.09, -0.96), (0.00, -1.05), (0.11, -1.09), (-0.01, -0.95), (-0.06, -1.01), (-0.03, -1.13), (0.07, -0.89),
    (0.12, -1.06), (-0.14, -0.98), (-0.04, -1.08), (0.13, -0.91), (0.10, -1.03), (-0.09, -0.97), (0.05, -1.11), (0.00, -0.86),
    (0.16, -1.15), (-0.15, -0.82), (-0.10, -1.19), (0.15, -0.84), (-0.18, -1.04), (0.21, -0.99), (0.02, -1.23), (-0.03, -0.78),
    (-0.10, -1.07), (0.06, -0.94), (0.04, -1.10), (-0.03, -0.92), (0.13, -1.01), (0.08, -1.05), (-0.13, -0.98), (0.06, -1.13),
    (0.11, -1.36), (-0.07, -0.65), (-0.24, -1.28), (0.25, -0.73), (0.32, -1.09), (-0.28, -0.81), (-0.12, -1.31), (-0.30, -1.17),
    (0.11, -0.98), (-0.02, -1.03), (0.08, -0.94), (-0.12, -1.08), (-0.06, -0.89), (0.14, -1.12), (0.03, -1.02), (0.09, -0.92),
    (-0.04, -1.00), (0.07, -0.99), (0.06, -1.04), (-0.10, -0.95), (0.01, -1.09), (0.16, -0.93), (-0.04, -1.14), (-0.11, -0.88),
    (0.09, -1.17), (0.10, -0.85), (0.18, -1.05), (-0.16, -0.91), (-0.06, -1.21), (0.12, -0.80), (0.21, -1.11), (-0.18, -0.87),
    (0.02, -1.01), (-0.07, -1.07), (0.05, -0.96), (0.03, -1.02), (-0.06, -0.94), (0.10, -1.10), (-0.09, -0.98), (0.14, -1.03),
    (0.02, -1.00), (-0.03, -1.04), (0.01, -0.95), (0.06, -1.02), (-0.06, -0.98), (0.04, -1.07), (-0.02, -0.93), (-0.08, -1.03),
    (0.07, -0.96), (0.00, -1.06), (-0.03, -0.99), (0.09, -1.01), (0.04, -0.92), (-0.05, -1.05), (0.03, -0.97), (-0.02, -1.08),
    (-0.01, -1.02), (-0.07, -0.94), (0.08, -1.04), (0.05, -0.98), (0.02, -1.09), (-0.04, -0.95), (-0.05, -1.00), (0.03, -1.03),
    (0.00, -0.91), (0.06, -1.06), (-0.09, -0.97), (-0.02, -1.01), (0.02, -1.05), (0.06, -0.94), (-0.07, -1.07), (0.04, -0.99),
    (0.00, -1.03), (-0.01, -0.96), (0.07, -1.00), (0.05, -1.08), (0.02, -0.93), (-0.04, -1.02), (0.01, -0.98), (-0.09, -1.05),
    (0.08, -0.95), (0.01, -1.01), (-0.03, -1.06), (-0.05, -0.92), (0.05, -1.04), (-0.07, -0.99), (-0.04, -1.09), (0.00, -0.97),
    (-0.03, -0.88), (-0.09, -0.90), (-0.13, -0.95), (-0.12, -1.02), (-0.10, -1.09), (-0.04, -1.13), (0.03, -1.12), (0.11, -1.08),
    (0.13, -1.02), (0.12, -0.94), (0.07, -0.89), (0.01, -0.86), (-0.06, -0.92), (-0.10, -0.97), (-0.08, -1.06), (0.06, -1.10),
    (-0.06, -0.85), (-0.14, -0.93), (-0.15, -1.04), (-0.08, -1.14), (0.05, -1.15), (0.15, -1.05), (0.13, -0.91), (0.07, -0.85),
    (0.00, -0.91), (-0.09, -1.00), (-0.01, -1.09), (0.10, -0.99), (-0.11, -0.93), (-0.07, -1.11), (0.13, -1.06), (0.10, -0.88),
    (-0.10, -0.87), (-0.16, -1.01), (-0.11, -1.13), (0.00, -1.16), (0.12, -1.11), (0.16, -0.97), (0.04, -0.87), (-0.12, -0.90),
    (-0.08, -0.94), (-0.13, -1.08), (0.08, -1.12), (0.08, -0.92), (-0.02, -0.84), (-0.07, -1.03), (0.09, -1.07), (0.07, -0.96),
    (-0.05, -0.89), (-0.14, -0.98), (-0.04, -1.10), (0.11, -1.04), (0.15, -0.93), (-0.09, -0.86), (0.02, -1.14), (-0.11, -1.06),
    (0.02, -0.90), (-0.12, -0.95), (-0.10, -1.12), (0.04, -1.09), (0.12, -1.00), (0.12, -0.88), (-0.06, -1.15), (-0.04, -0.92),
]

pts_315 = [
    (0.69, -0.68), (0.74, -0.76), (0.63, -0.70), (0.77, -0.64), (0.70, -0.82), (0.66, -0.62), (0.80, -0.73), (0.60, -0.77),
    (0.72, -0.59), (0.68, -0.72), (0.75, -0.69), (0.64, -0.80), (0.79, -0.61), (0.71, -0.66), (0.58, -0.67), (0.83, -0.78),
    (0.67, -0.57), (0.73, -0.84), (0.62, -0.64), (0.76, -0.80), (0.70, -0.71), (0.78, -0.67), (0.65, -0.74), (0.74, -0.62),
    (0.59, -0.82), (0.81, -0.58), (0.68, -0.65), (0.72, -0.75), (0.56, -0.71), (0.85, -0.70), (0.66, -0.86), (0.77, -0.83),
    (0.61, -0.60), (0.75, -0.55), (0.69, -0.78), (0.82, -0.66), (0.64, -0.68), (0.73, -0.71), (0.57, -0.79), (0.79, -0.76),
    (0.71, -0.89), (0.65, -0.54), (0.87, -0.74), (0.53, -0.65), (0.74, -0.72), (0.68, -0.61), (0.76, -0.68), (0.62, -0.84),
    (0.80, -0.63), (0.67, -0.75), (0.84, -0.82), (0.59, -0.62), (0.70, -0.64), (0.72, -0.79), (0.63, -0.72), (0.78, -0.86),
    (0.55, -0.74), (0.86, -0.61), (0.66, -0.69), (0.74, -0.57), (0.69, -0.87), (0.81, -0.80), (0.60, -0.69), (0.75, -0.77),
    (0.51, -0.58), (0.90, -0.81), (0.64, -0.52), (0.77, -0.90), (0.58, -0.88), (0.83, -0.55), (0.71, -0.62), (0.67, -0.81),
    (0.73, -0.67), (0.61, -0.76), (0.79, -0.70), (0.65, -0.59), (0.76, -0.73), (0.54, -0.61), (0.88, -0.66), (0.70, -0.53),
    (0.48, -0.75), (0.93, -0.69), (0.62, -0.56), (0.74, -0.92), (0.57, -0.66), (0.84, -0.85), (0.68, -0.49), (0.78, -0.52),
    (0.52, -0.83), (0.91, -0.77), (0.45, -0.64), (0.96, -0.84), (0.63, -0.93), (0.82, -0.50), (0.50, -0.53), (0.87, -0.91),
    (0.69, -0.63), (0.72, -0.69), (0.66, -0.77), (0.75, -0.60), (0.64, -0.66), (0.77, -0.74), (0.68, -0.83), (0.71, -0.73),
    (0.60, -0.72), (0.80, -0.82), (0.65, -0.63), (0.83, -0.68), (0.58, -0.59), (0.73, -0.64), (0.56, -0.85), (0.78, -0.55),
    (0.42, -0.69), (0.99, -0.63), (0.54, -0.47), (0.92, -0.94), (0.46, -0.90), (0.85, -0.44), (0.67, -0.99), (0.40, -0.56),
    (1.01, -0.73), (0.49, -0.45), (0.95, -0.53), (0.61, -0.98), (0.76, -0.41), (0.37, -0.79), (1.03, -0.59), (0.52, -0.67),
    (0.70, -0.68), (0.74, -0.81), (0.67, -0.70), (0.63, -0.61), (0.77, -0.71), (0.71, -0.78), (0.59, -0.73), (0.81, -0.65),
    (0.66, -0.58), (0.72, -0.86), (0.64, -0.76), (0.79, -0.59), (0.69, -0.60), (0.75, -0.79), (0.61, -0.65), (0.84, -0.72),
    (0.57, -0.56), (0.88, -0.87), (0.53, -0.80), (0.86, -0.57), (0.68, -0.90), (0.73, -0.51), (0.49, -0.70), (0.94, -0.75),
    (0.65, -0.82), (0.76, -0.66), (0.62, -0.68), (0.80, -0.75), (0.71, -0.57), (0.67, -0.64), (0.74, -0.85), (0.59, -0.64),
    (0.36, -0.61), (1.05, -0.79), (0.44, -0.96), (0.97, -0.47), (0.63, -0.38), (0.89, -1.00), (0.41, -0.84), (0.55, -1.02),
    (0.72, -0.61), (0.69, -0.74), (0.76, -0.62), (0.64, -0.84), (0.81, -0.78), (0.60, -0.58), (0.68, -0.67), (0.78, -0.63),
    (0.70, -0.76), (0.73, -0.65), (0.66, -0.66), (0.75, -0.82), (0.63, -0.71), (0.77, -0.56), (0.58, -0.76), (0.82, -0.83),
    (0.55, -0.63), (0.85, -0.62), (0.67, -0.54), (0.79, -0.88), (0.51, -0.78), (0.90, -0.60), (0.61, -0.51), (0.83, -0.90),
    (0.71, -0.70), (0.65, -0.79), (0.74, -0.67), (0.68, -0.69), (0.76, -0.78), (0.62, -0.62), (0.72, -0.81), (0.69, -0.58),
    (0.73, -0.71), (0.68, -0.67), (0.72, -0.76), (0.77, -0.69), (0.65, -0.73), (0.75, -0.64), (0.69, -0.78), (0.63, -0.68),
    (0.78, -0.75), (0.71, -0.65), (0.68, -0.72), (0.80, -0.70), (0.75, -0.79), (0.66, -0.66), (0.74, -0.74), (0.69, -0.63),
    (0.70, -0.69), (0.64, -0.77), (0.79, -0.67), (0.76, -0.73), (0.73, -0.62), (0.67, -0.76), (0.66, -0.71), (0.74, -0.68),
    (0.71, -0.80), (0.77, -0.65), (0.62, -0.74), (0.69, -0.70), (0.73, -0.66), (0.77, -0.77), (0.64, -0.64), (0.75, -0.72),
    (0.71, -0.68), (0.70, -0.75), (0.78, -0.71), (0.76, -0.63), (0.73, -0.78), (0.67, -0.69), (0.72, -0.73), (0.62, -0.66),
    (0.79, -0.76), (0.72, -0.70), (0.68, -0.65), (0.66, -0.79), (0.76, -0.67), (0.64, -0.72), (0.67, -0.62), (0.71, -0.74),
    (0.83, -0.74), (0.81, -0.80), (0.76, -0.84), (0.69, -0.83), (0.62, -0.81), (0.58, -0.75), (0.59, -0.68), (0.63, -0.60),
    (0.69, -0.58), (0.77, -0.59), (0.82, -0.64), (0.85, -0.70), (0.79, -0.77), (0.74, -0.81), (0.65, -0.79), (0.61, -0.65),
    (0.86, -0.77), (0.78, -0.85), (0.67, -0.86), (0.57, -0.79), (0.56, -0.66), (0.66, -0.56), (0.80, -0.58), (0.86, -0.64),
    (0.80, -0.71), (0.71, -0.80), (0.62, -0.72), (0.72, -0.61), (0.78, -0.82), (0.60, -0.78), (0.65, -0.58), (0.83, -0.61),
    (0.84, -0.81), (0.70, -0.87), (0.58, -0.82), (0.55, -0.71), (0.60, -0.59), (0.74, -0.55), (0.84, -0.67), (0.81, -0.83),
    (0.77, -0.79), (0.63, -0.84), (0.59, -0.63), (0.79, -0.63), (0.87, -0.73), (0.68, -0.78), (0.64, -0.62), (0.75, -0.64),
    (0.82, -0.76), (0.73, -0.85), (0.61, -0.75), (0.67, -0.60), (0.78, -0.56), (0.85, -0.80), (0.57, -0.69), (0.65, -0.82),
    (0.81, -0.69), (0.76, -0.83), (0.59, -0.81), (0.62, -0.67), (0.71, -0.59), (0.83, -0.59), (0.56, -0.77), (0.79, -0.75),
]

clusters = [pts_0, pts_45, pts_90, pts_135, pts_180, pts_225, pts_270, pts_315]

in_phase = [p[0] for c in clusters for p in c]
quadrature = [p[1] for c in clusters for p in c]

fig = go.Figure()

fig.add_trace(
    go.Scatter(
        x=in_phase,
        y=quadrature,
        mode="markers",
        marker=dict(symbol="square", size=4, color="black", line=dict(width=0)),
        showlegend=False,
        hoverinfo="skip",
    )
)

axis_style = dict(
    showline=True,
    linecolor="black",
    linewidth=1,
    mirror="ticks",
    showgrid=False,
    zeroline=False,
    ticks="inside",
    ticklen=8,
    tickcolor="black",
    tick0=0,
    dtick=0.5,
    minor=dict(ticks="inside", ticklen=4, dtick=0.1, tickcolor="black", showgrid=False),
    tickfont=dict(size=16, color="black"),
)

# the page body adds an 8px offset, so the figure is a bit smaller than the window
fig.update_layout(
    width=504,
    height=504,
    template="none",
    paper_bgcolor="white",
    plot_bgcolor="white",
    margin=dict(l=81, r=26, t=44, b=73),
    font=dict(family="Liberation Sans, Arial, sans-serif", size=16, color="black"),
    title=dict(
        text="8\u2212PSK Modulation",
        x=0.5,
        xref="paper",
        xanchor="center",
        y=1 - 31 / 504,
        yref="container",
        yanchor="middle",
        font=dict(size=16, color="black"),
    ),
    xaxis=dict(
        axis_style,
        range=[-1.445, 1.42],
        ticklabelstandoff=4,
        title=dict(text="In Phase", standoff=4, font=dict(size=16)),
    ),
    yaxis=dict(
        axis_style,
        range=[-1.464, 1.446],
        ticklabelstandoff=8,
        title=dict(text="Quadrature", standoff=0, font=dict(size=16)),
    ),
)

fig.write_html("out.html")
